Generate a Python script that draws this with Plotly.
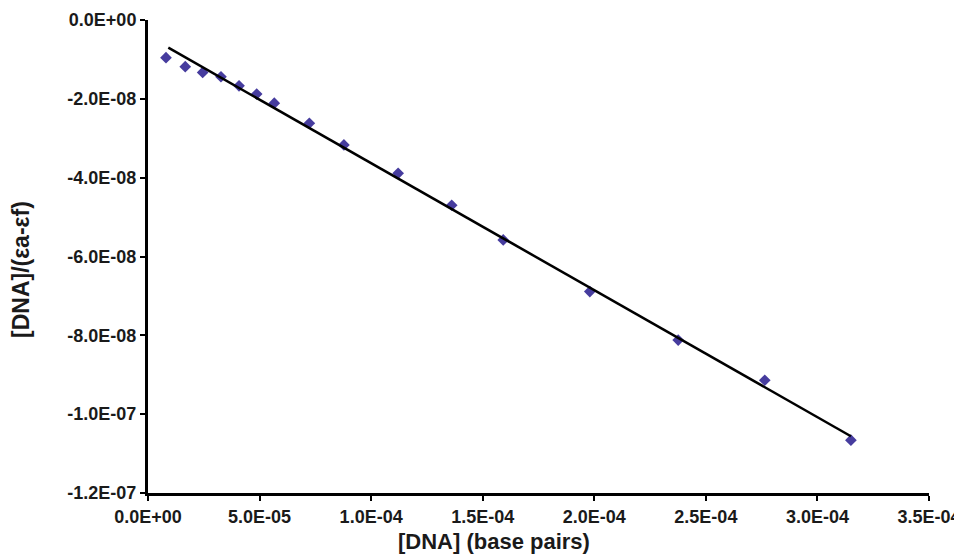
import plotly.graph_objects as go

# Data
dna_bp = [8.06e-6, 1.67e-5, 2.45e-5, 3.27e-5, 4.08e-5, 4.87e-5, 5.66e-5, 7.23e-5,
          8.78e-5, 1.121e-4, 1.361e-4, 1.592e-4, 1.980e-4, 2.376e-4, 2.764e-4, 3.150e-4]
ratio = [-9.57e-9, -1.185e-8, -1.33e-8, -1.44e-8, -1.67e-8, -1.88e-8, -2.11e-8, -2.62e-8,
         -3.17e-8, -3.89e-8, -4.70e-8, -5.58e-8, -6.89e-8, -8.12e-8, -9.14e-8, -1.066e-7]

# Linear trendline endpoints
trend_x = [9.1e-6, 3.15e-4]
trend_y = [-7.03e-9, -1.056e-7]

x_tickvals = [0, 5e-5, 1e-4, 1.5e-4, 2e-4, 2.5e-4, 3e-4, 3.5e-4]
x_ticktext = ["0.0E+00", "5.0E-05", "1.0E-04", "1.5E-04", "2.0E-04", "2.5E-04", "3.0E-04", "3.5E-04"]
y_tickvals = [0, -2e-8, -4e-8, -6e-8, -8e-8, -1e-7, -1.2e-7]
y_ticktext = ["0.0E+00", "-2.0E-08", "-4.0E-08", "-6.0E-08", "-8.0E-08", "-1.0E-07", "-1.2E-07"]

fig = go.Figure()
fig.add_trace(go.Scatter(
    x=dna_bp, y=ratio, mode="markers",
    marker=dict(symbol="diamond", size=9, color="#463C9E"),
    showlegend=False, cliponaxis=False))
fig.add_trace(go.Scatter(
    x=trend_x, y=trend_y, mode="lines",
    line=dict(color="black", width=2.5),
    showlegend=False))

FONT = "Liberation Sans, Arial"
tickfont = dict(family=FONT, size=18, color="#1a1a1a")

# page body has an 8px offset; margins are set so the plot area lands where it is in the reference
OFF = 8
L, R, T, B = 148 - OFF, 962 - 929 + OFF, 20 - OFF, 555 - 493 + OFF

fig.update_layout(
    width=962, height=555,
    margin=dict(l=L, r=R, t=T, b=B, autoexpand=False),
    paper_bgcolor="white", plot_bgcolor="white",
    xaxis=dict(range=[0, 3.5e-4], tickvals=x_tickvals,
               ticktext=["<b>%s</b>" % t for t in x_ticktext], automargin=False,
               showgrid=False, zeroline=False, showline=True, linecolor="black", linewidth=3,
               ticks="outside", ticklen=5, tickwidth=2, tickcolor="black",
               tickfont=tickfont),
    yaxis=dict(range=[-1.2e-7, 0], tickvals=y_tickvals,
               ticktext=["<b>%s</b>" % t for t in y_ticktext], automargin=False,
               showgrid=False, zeroline=False, showline=True, linecolor="black", linewidth=3,
               ticks="outside", ticklen=5, tickwidth=2, tickcolor="black",
               tickfont=tickfont),
    annotations=[
        dict(text="<b>[DNA] (base pairs)</b>", x=494, y=541, xref="paper", yref="paper",
             xanchor="center", yanchor="middle", showarrow=False,
             font=dict(family=FONT, size=22, color="#1a1a1a")),
        dict(text="<b>[DNA]/(εa-εf)</b>", x=21, y=270, xref="paper", yref="paper",
             xanchor="center", yanchor="middle", showarrow=False, textangle=-90,
             font=dict(family=FONT, size=23, color="#1a1a1a")),
    ],
)

# convert screen pixel positions of annotations to paper coordinates
pw = 962 - L - R
ph = 555 - T - B
for a in fig.layout.annotations:
    px, py = a.x - OFF, a.y - OFF
    a.x = (px - L) / pw
    a.y = (555 - B - py) / ph

fig.write_html("out.html")
